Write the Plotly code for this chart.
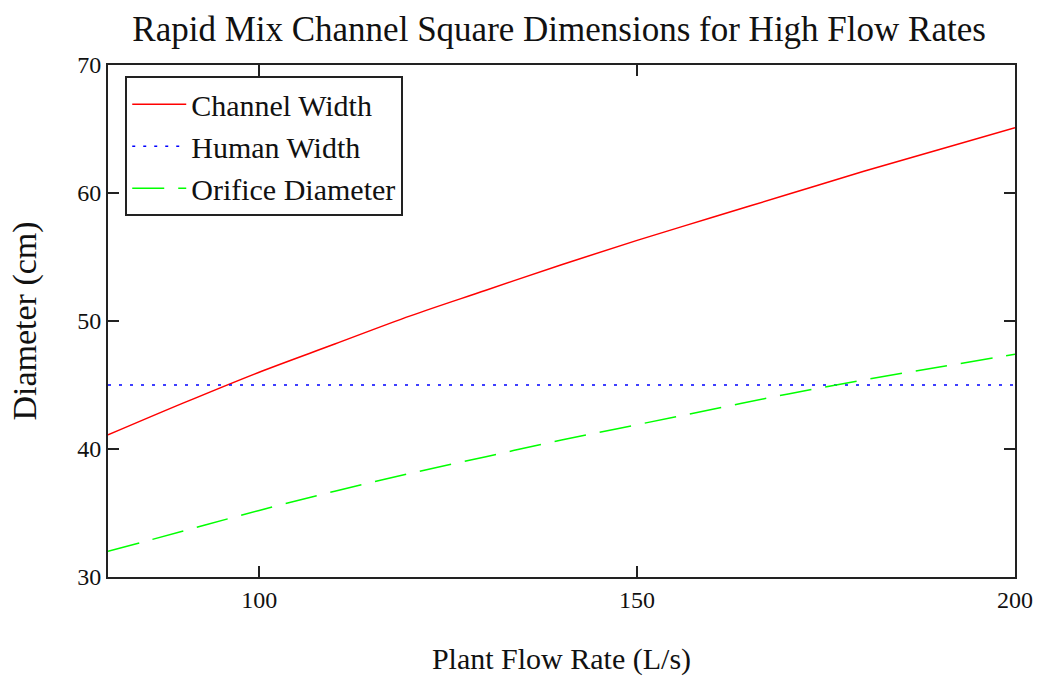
import plotly.graph_objects as go

flow = [80, 90, 100, 110, 120, 130, 140, 150, 160, 170, 180, 190, 200]
channel_width = [41.1, 43.6, 46.0, 48.2, 50.4, 52.4, 54.4, 56.3, 58.1, 59.9, 61.7, 63.4, 65.1]
human_width = [45.0] * len(flow)
orifice_diameter = [32.0, 33.6, 35.2, 36.7, 38.1, 39.4, 40.7, 41.9, 43.1, 44.3, 45.4, 46.4, 47.4]

FONT = "Liberation Serif"

fig = go.Figure()
fig.add_trace(go.Scatter(x=flow, y=channel_width, mode="lines", name="Channel Width",
                         line=dict(color="#ff0000", width=1.5, shape="spline")))
fig.add_trace(go.Scatter(x=flow, y=human_width, mode="lines", name="Human Width",
                         line=dict(color="#0000ff", width=1.5, dash="3px,8px")))
fig.add_trace(go.Scatter(x=flow, y=orifice_diameter, mode="lines", name="Orifice Diameter",
                         line=dict(color="#00ff00", width=1.5, dash="32px,14px", shape="spline")))

axis_common = dict(showline=True, linecolor="#222222", linewidth=2, mirror="allticks",
                   ticks="inside", ticklen=11, tickwidth=1.5, tickcolor="#222222",
                   showgrid=False, zeroline=False,
                   tickfont=dict(family=FONT, size=24, color="#111111"))

fig.update_layout(
    width=1045, height=681,
    margin=dict(l=108, r=30, t=65, b=104),
    paper_bgcolor="white", plot_bgcolor="white",
    title=dict(text="Rapid Mix Channel Square Dimensions for High Flow Rates",
               x=0.535, xanchor="center", y=0.958, yanchor="middle",
               font=dict(family=FONT, size=35, color="#111111")),
    xaxis=dict(range=[80, 200], tickvals=[100, 150, 200],
               title=dict(text="Plant Flow Rate (L/s)", standoff=36,
                          font=dict(family=FONT, size=30, color="#111111")),
               **axis_common),
    yaxis=dict(range=[30, 70], tickvals=[30, 40, 50, 60, 70],
               title=dict(text="Diameter (cm)", standoff=30,
                          font=dict(family=FONT, size=34, color="#111111")),
               **axis_common),
    legend=dict(x=0.019, y=0.978, xanchor="left", yanchor="top",
                bordercolor="#222222", borderwidth=2, bgcolor="white",
                font=dict(family=FONT, size=30, color="#111111"),
                tracegroupgap=0, itemwidth=54),
    showlegend=True,
)

fig.write_html("out.html")
